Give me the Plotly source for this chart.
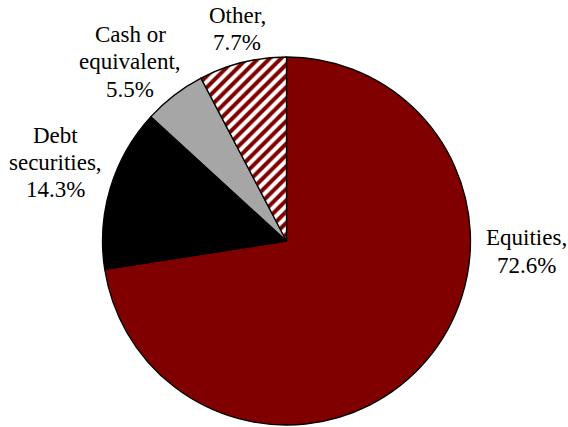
import plotly.graph_objects as go

categories = ["Equities", "Debt securities", "Cash or equivalent", "Other"]
values = [72.6, 14.3, 5.5, 7.7]
label_lines = [["Equities,", "72.6%"], ["Debt", "securities,", "14.3%"],
               ["Cash or", "equivalent,", "5.5%"], ["Other,", "7.7%"]]

W, H = 568, 427
cx, cy, r = 286.5, 241, 184
# (center x, center y of first line) in pixels
label_pos = [(526, 238), (56, 135), (130, 35), (237, 15)]
LINE = 27

fig = go.Figure(go.Pie(
    labels=categories,
    values=values,
    sort=False,
    direction="clockwise",
    rotation=0,
    textinfo="none",
    hoverinfo="label+percent",
    marker=dict(
        colors=["#800000", "#000000", "#A6A6A6", "#FFFFFF"],
        line=dict(color="#000000", width=1.3),
        pattern=dict(shape=["", "", "", "/"], fgcolor="#800000",
                     bgcolor="#FFFFFF", size=8, solidity=0.5),
    ),
    domain=dict(x=[(cx - r) / W, (cx + r) / W], y=[1 - (cy + r) / H, 1 - (cy - r) / H]),
    showlegend=False,
))

for lines, (x, y) in zip(label_lines, label_pos):
    for i, t in enumerate(lines):
        fig.add_annotation(text=t, x=x / W, y=1 - (y + i * LINE) / H,
                           xref="paper", yref="paper", showarrow=False,
                           xanchor="center", yanchor="middle",
                           font=dict(family="Liberation Serif", size=23, color="#000000"))

fig.update_layout(width=W, height=H, margin=dict(l=0, r=0, t=0, b=0),
                  paper_bgcolor="white", plot_bgcolor="white")
fig.write_html("out.html", config={"displayModeBar": False},
               post_script="document.body.style.margin='0';document.body.style.overflow='hidden';")
